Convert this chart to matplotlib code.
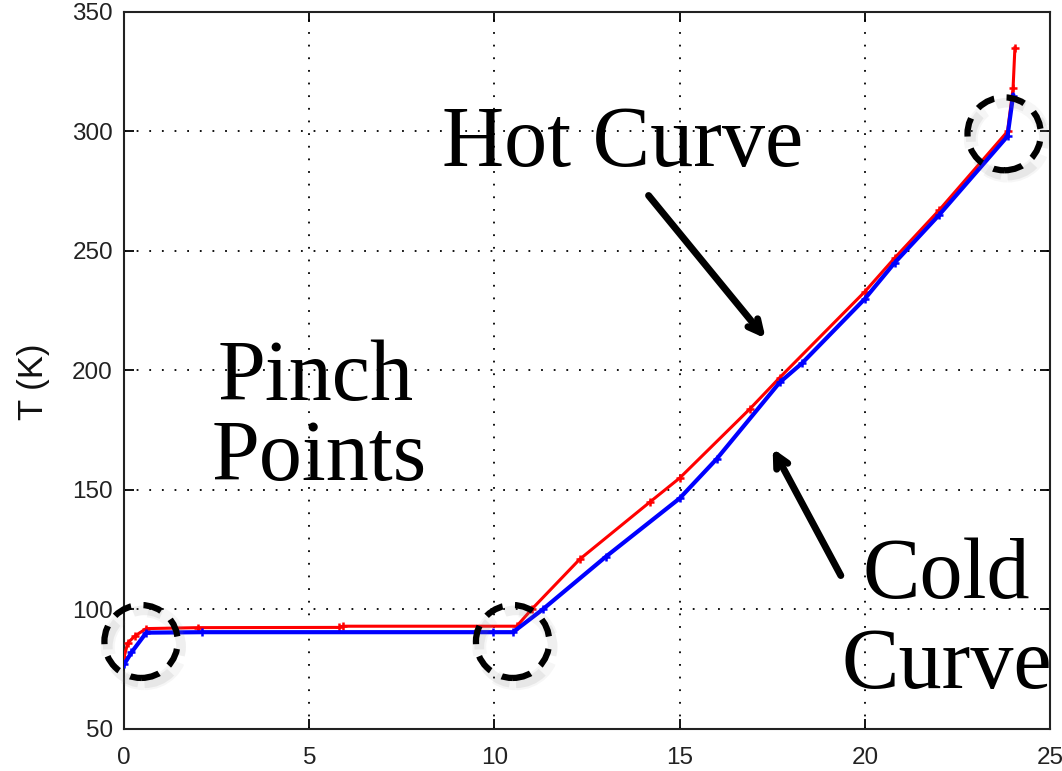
import matplotlib
matplotlib.use("Agg")
import matplotlib.pyplot as plt
from matplotlib.patches import Ellipse

# ---- data ----
hot_x = [0.0, 0.1, 0.3, 0.6, 2.0, 5.8, 5.9, 10.6, 11.0, 12.3, 14.2, 15.0, 16.9, 17.7, 20.0, 20.8, 22.0, 23.85, 24.0, 24.05]
hot_y = [80.0, 86.0, 89.0, 92.0, 92.4, 92.5, 93.0, 93.0, 100.0, 121.0, 145.0, 155.0, 184.0, 197.0, 233.0, 247.0, 267.0, 300.0, 318.0, 335.0]

cold_x = [0.0, 0.2, 0.6, 2.1, 9.95, 10.5, 11.3, 13.0, 15.0, 16.0, 17.7, 18.3, 20.0, 20.8, 22.0, 23.85, 24.0]
cold_y = [77.0, 82.0, 90.3, 90.5, 90.5, 90.5, 100.0, 122.0, 146.5, 163.0, 195.0, 203.0, 230.0, 245.0, 265.0, 298.0, 315.0]

pinch_x = [0.46, 10.49, 23.76]
pinch_y = [86.6, 86.6, 299.0]

x_ticks = [0, 5, 10, 15, 20, 25]
y_ticks = [50, 100, 150, 200, 250, 300, 350]

fig = plt.figure(figsize=(10.62, 7.71), dpi=100)
ax = fig.add_axes([0.1168, 0.0545, 0.872, 0.930])

ax.plot(hot_x, hot_y, color="#ff0000", lw=2.2, marker="+", ms=6, mew=1.8, zorder=3)
ax.plot(cold_x, cold_y, color="#0000ff", lw=3.0, marker="+", ms=6, mew=1.8, zorder=4)

# pinch point circles (dashed, with soft shadow)
for px, py in zip(pinch_x, pinch_y):
    for k, a in [(10, 0.07), (7, 0.12)]:
        sh = Ellipse((px + 0.09, py - 2.2), 1.98, 30.5, fill=False, ec="gray",
                     lw=k, alpha=a, ls=(0, (3, 2)), zorder=5, clip_on=False)
        ax.add_patch(sh)
    e = Ellipse((px, py), 1.98, 30.5, fill=False, ec="black", lw=4.5,
                ls=(0, (3, 2)), zorder=6, clip_on=False)
    ax.add_patch(e)

sans = "Liberation Sans"
ax.set_xlim(0, 25)
ax.set_ylim(50, 350)
ax.set_xticks(x_ticks)
ax.set_yticks(y_ticks)
ax.tick_params(direction="in", top=True, right=True, length=7, width=1.3,
               labelsize=17.5, labelcolor="#222222")
ax.tick_params(axis="y", pad=8)
ax.tick_params(axis="x", pad=13)
for lab in ax.get_xticklabels() + ax.get_yticklabels():
    lab.set_family(sans)
for s in ax.spines.values():
    s.set_linewidth(1.5)
    s.set_color("#222222")
ax.grid(True, color="black", ls=(0, (1, 6)), lw=1.3)
fig.text(34 / 1062, 1 - 382 / 771, "T (K)", rotation=90, ha="center", va="center",
         family=sans, fontsize=25, color="#111111")

serif = "Liberation Serif"
ax.text(13.45, 285.5, "Hot Curve", family=serif, fontsize=62, ha="center", va="baseline", zorder=7)
ax.text(5.16, 187.5, "Pinch", family=serif, fontsize=62, ha="center", va="baseline", zorder=7)
ax.text(5.27, 154.0, "Points", family=serif, fontsize=62, ha="center", va="baseline", zorder=7)
ax.text(22.2, 105.0, "Cold", family=serif, fontsize=62, ha="center", va="baseline", zorder=7)
ax.text(22.2, 67.0, "Curve", family=serif, fontsize=62, ha="center", va="baseline", zorder=7, clip_on=False)

arrow = dict(arrowstyle="->,head_length=0.9,head_width=0.45", lw=5, color="black",
             shrinkA=0, shrinkB=0, capstyle="round")
ax.annotate("", xy=(17.32, 213.4), xytext=(14.16, 273.2), arrowprops=arrow, zorder=7)
ax.annotate("", xy=(17.51, 167.4), xytext=(19.35, 114.2), arrowprops=arrow, zorder=7)

fig.savefig("out.png", dpi=100)
